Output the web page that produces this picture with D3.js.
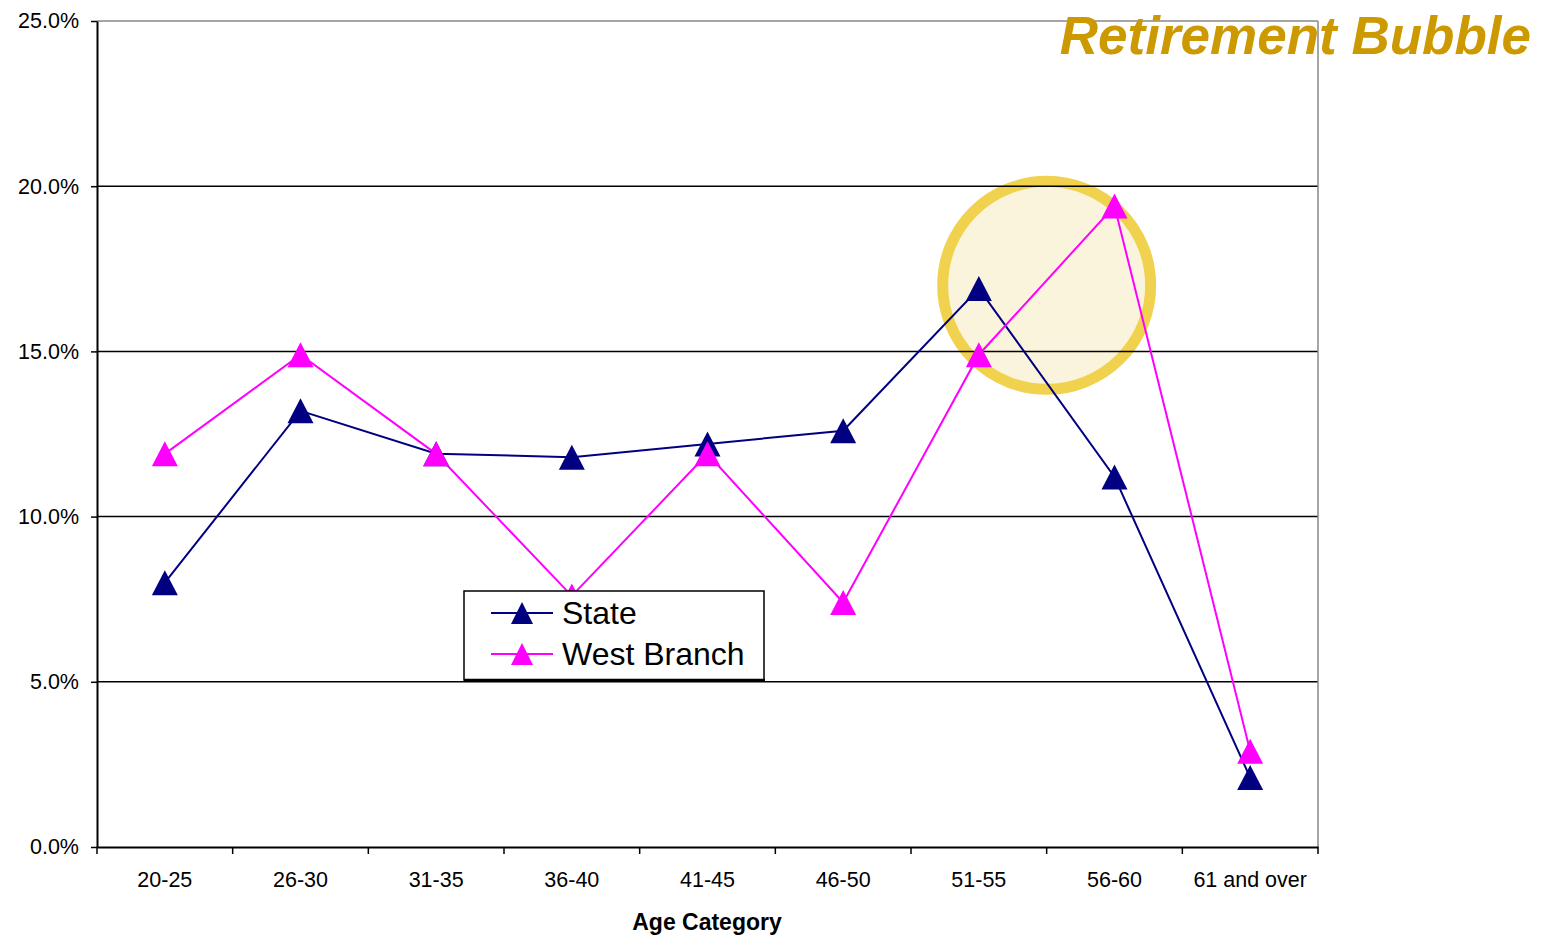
<!DOCTYPE html>
<html>
<head>
<meta charset="utf-8">
<script src="https://cdn.jsdelivr.net/npm/d3@7"></script>
<style>
  html, body { margin: 0; padding: 0; background: #fff; }
  svg { display: block; font-family: "Liberation Sans", Arial, sans-serif; }
</style>
</head>
<body>
<svg id="chart" width="1547" height="945"></svg>
<script>
const categories = ["20-25", "26-30", "31-35", "36-40", "41-45", "46-50", "51-55", "56-60", "61 and over"];
const stateValues = [8.0, 13.2, 11.9, 11.8, 12.2, 12.6, 16.9, 11.2, 2.1];
const westBranchValues = [11.9, 14.9, 11.9, 7.6, 11.9, 7.4, 14.9, 19.4, 2.9];
const yTicks = [0, 5, 10, 15, 20, 25];
const seriesNames = ["State", "West Branch"];
const seriesColors = ["#000080", "#FF00FF"];
const titleText = "Retirement Bubble";
const xTitle = "Age Category";
const bubbleCenterValue = 17; // bubble annotation, % level

(function () {
const svg = d3.select("#chart");
const pLeft = 97, pRight = 1318, pTop = 21, pBottom = 847;

const x = d3.scaleBand().domain(categories).range([pLeft, pRight]).padding(0);
const y = d3.scaleLinear().domain([0, 25]).range([pBottom, pTop]);
const cx = c => x(c) + x.bandwidth() / 2;

// bubble annotation
svg.append("circle")
  .attr("cx", x("56-60")).attr("cy", y(bubbleCenterValue)).attr("r", 104)
  .attr("fill", "#FBF4DC").attr("stroke", "#F0D24E").attr("stroke-width", 11);

// gridlines
svg.append("g").selectAll("line").data(yTicks.filter(t => t > 0 && t < 25)).join("line")
  .attr("x1", pLeft).attr("x2", pRight)
  .attr("y1", d => y(d)).attr("y2", d => y(d))
  .attr("stroke", "#000").attr("stroke-width", 1.5);

// plot frame: top and right grey
svg.append("line").attr("x1", pLeft).attr("x2", pRight).attr("y1", pTop).attr("y2", pTop)
  .attr("stroke", "#888").attr("stroke-width", 1.5);
svg.append("line").attr("x1", pRight).attr("x2", pRight).attr("y1", pTop).attr("y2", pBottom)
  .attr("stroke", "#888").attr("stroke-width", 1.5);

// Y axis
const yAxis = d3.axisLeft(y).tickValues(yTicks).tickFormat(d => d.toFixed(1) + "%").tickSize(6).tickSizeOuter(0);
const gy = svg.append("g").attr("transform", `translate(${pLeft},0)`).call(yAxis);
gy.select(".domain").attr("stroke", "#000").attr("stroke-width", 2);
gy.selectAll(".tick line").attr("stroke", "#000").attr("stroke-width", 1.5);
gy.selectAll(".tick text").attr("font-size", 21.5).attr("fill", "#000").attr("x", -18)
  .attr("font-family", "Liberation Sans, Arial, sans-serif");

// X axis
const xAxis = d3.axisBottom(x).tickSize(0).tickSizeOuter(0);
const gx = svg.append("g").attr("transform", `translate(0,${pBottom})`).call(xAxis);
gx.select(".domain").attr("stroke", "#000").attr("stroke-width", 2);
gx.selectAll(".tick text").attr("font-size", 21.5).attr("fill", "#000").attr("dy", "0").attr("y", 40)
  .attr("font-family", "Liberation Sans, Arial, sans-serif");
const bounds = categories.map(c => x(c)).concat([pRight]);
gx.append("g").selectAll("line").data(bounds).join("line")
  .attr("x1", d => d).attr("x2", d => d).attr("y1", 0).attr("y2", 7)
  .attr("stroke", "#000").attr("stroke-width", 1.5);

svg.append("text").attr("x", 707).attr("y", 930).attr("text-anchor", "middle")
  .attr("font-size", 23).attr("font-weight", "bold").attr("fill", "#000").text(xTitle);

// series
function triPath(w, h) {
  return `M0,${-h/2}L${w/2},${h/2}L${-w/2},${h/2}Z`;
}
const seriesData = [stateValues, westBranchValues];
const line = d3.line().x((d, i) => cx(categories[i])).y(d => y(d));
seriesData.forEach((vals, si) => {
  svg.append("path").datum(vals).attr("d", line).attr("fill", "none")
    .attr("stroke", seriesColors[si]).attr("stroke-width", 2);
});
seriesData.forEach((vals, si) => {
  svg.append("g").selectAll("path").data(vals).join("path")
    .attr("transform", (d, i) => `translate(${cx(categories[i])},${y(d)})`)
    .attr("d", triPath(26, 25)).attr("fill", seriesColors[si]);
});

// legend
const lg = svg.append("g");
lg.append("rect").attr("x", 464).attr("y", 591).attr("width", 300).attr("height", 89)
  .attr("fill", "#fff").attr("stroke", "#000").attr("stroke-width", 1.5);
lg.append("line").attr("x1", 464).attr("x2", 765).attr("y1", 680).attr("y2", 680)
  .attr("stroke", "#000").attr("stroke-width", 2.5);
seriesNames.forEach((n, i) => {
  const yy = 613 + i * 41;
  lg.append("line").attr("x1", 491).attr("x2", 553).attr("y1", yy).attr("y2", yy)
    .attr("stroke", seriesColors[i]).attr("stroke-width", 2);
  lg.append("path").attr("transform", `translate(522,${yy})`).attr("d", triPath(22, 22)).attr("fill", seriesColors[i]);
  lg.append("text").attr("x", 562).attr("y", yy + 11).attr("font-size", 32).attr("fill", "#000").text(n);
});

// title
svg.append("text").attr("x", 1531).attr("y", 54).attr("text-anchor", "end")
  .attr("font-size", 53).attr("font-weight", "bold").attr("font-style", "italic")
  .attr("fill", "#CC9900").text(titleText);
})();
</script>
</body>
</html>
